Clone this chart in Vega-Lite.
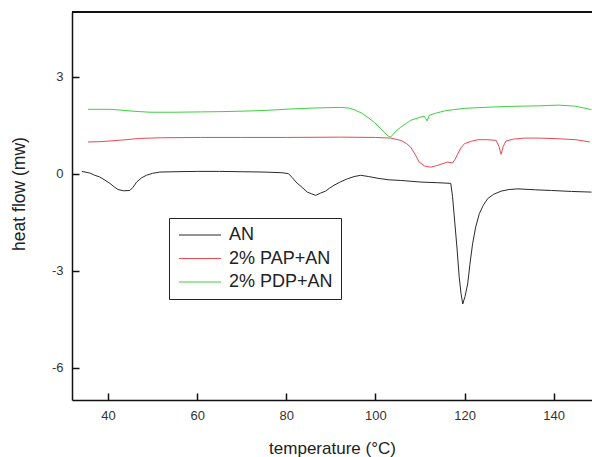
{
  "$schema": "https://vega.github.io/schema/vega-lite/v6.json",
  "autosize": "none",
  "width": 520,
  "height": 388,
  "padding": {"left": 72, "top": 12, "right": 0, "bottom": 57},
  "background": "white",
  "config": {
    "view": {"stroke": null},
    "font": "Liberation Sans",
    "axis": {
      "grid": false,
      "domainColor": "#111",
      "domainWidth": 1.5,
      "tickColor": "#111",
      "tickWidth": 1.5,
      "tickSize": -7,
      "labelFont": "Liberation Sans",
      "labelFontSize": 13,
      "labelColor": "#333",
      "titleFont": "Liberation Sans",
      "titleFontWeight": "normal",
      "titleColor": "#222"
    }
  },
  "data": {"values": [
    {"s":"AN","x":34.1,"y":0.07},{"s":"AN","x":35.9,"y":0.02},{"s":"AN","x":37.0,"y":-0.05},{"s":"AN","x":38.1,"y":-0.1},{"s":"AN","x":39.3,"y":-0.2},{"s":"AN","x":40.4,"y":-0.3},{"s":"AN","x":41.3,"y":-0.4},{"s":"AN","x":42.2,"y":-0.49},{"s":"AN","x":43.5,"y":-0.53},{"s":"AN","x":44.9,"y":-0.52},{"s":"AN","x":45.6,"y":-0.42},{"s":"AN","x":46.4,"y":-0.26},{"s":"AN","x":47.5,"y":-0.13},{"s":"AN","x":48.6,"y":-0.05},{"s":"AN","x":50.0,"y":0.01},{"s":"AN","x":51.6,"y":0.05},{"s":"AN","x":55,"y":0.06},{"s":"AN","x":60,"y":0.07},{"s":"AN","x":65,"y":0.07},{"s":"AN","x":70,"y":0.06},{"s":"AN","x":75,"y":0.05},{"s":"AN","x":79,"y":0.03},{"s":"AN","x":80.5,"y":0.0},{"s":"AN","x":81.3,"y":-0.12},{"s":"AN","x":82.4,"y":-0.29},{"s":"AN","x":83.5,"y":-0.42},{"s":"AN","x":84.7,"y":-0.57},{"s":"AN","x":85.6,"y":-0.62},{"s":"AN","x":86.6,"y":-0.67},{"s":"AN","x":87.7,"y":-0.6},{"s":"AN","x":88.8,"y":-0.54},{"s":"AN","x":89.7,"y":-0.45},{"s":"AN","x":90.7,"y":-0.36},{"s":"AN","x":92.2,"y":-0.25},{"s":"AN","x":93.7,"y":-0.16},{"s":"AN","x":95.2,"y":-0.09},{"s":"AN","x":96.7,"y":-0.05},{"s":"AN","x":98.5,"y":-0.09},{"s":"AN","x":100.4,"y":-0.14},{"s":"AN","x":103,"y":-0.19},{"s":"AN","x":105.7,"y":-0.21},{"s":"AN","x":110.2,"y":-0.26},{"s":"AN","x":114,"y":-0.28},{"s":"AN","x":116.9,"y":-0.3},{"s":"AN","x":117.3,"y":-0.7},{"s":"AN","x":117.7,"y":-1.34},{"s":"AN","x":118.3,"y":-2.3},{"s":"AN","x":118.8,"y":-3.2},{"s":"AN","x":119.2,"y":-3.7},{"s":"AN","x":119.6,"y":-4.03},{"s":"AN","x":120.1,"y":-3.8},{"s":"AN","x":120.7,"y":-3.41},{"s":"AN","x":121.2,"y":-2.8},{"s":"AN","x":121.8,"y":-2.17},{"s":"AN","x":122.5,"y":-1.65},{"s":"AN","x":123.3,"y":-1.24},{"s":"AN","x":124.2,"y":-0.98},{"s":"AN","x":125.2,"y":-0.77},{"s":"AN","x":126.5,"y":-0.64},{"s":"AN","x":128.2,"y":-0.54},{"s":"AN","x":130,"y":-0.49},{"s":"AN","x":132.0,"y":-0.47},{"s":"AN","x":136,"y":-0.5},{"s":"AN","x":139.5,"y":-0.52},{"s":"AN","x":144,"y":-0.55},{"s":"AN","x":148.5,"y":-0.57},
    {"s":"2% PAP+AN","x":35.5,"y":0.98},{"s":"2% PAP+AN","x":38,"y":0.99},{"s":"2% PAP+AN","x":40.4,"y":1.01},{"s":"2% PAP+AN","x":44,"y":1.05},{"s":"2% PAP+AN","x":47.1,"y":1.09},{"s":"2% PAP+AN","x":52,"y":1.11},{"s":"2% PAP+AN","x":60.7,"y":1.12},{"s":"2% PAP+AN","x":70,"y":1.12},{"s":"2% PAP+AN","x":80,"y":1.12},{"s":"2% PAP+AN","x":92.2,"y":1.13},{"s":"2% PAP+AN","x":100,"y":1.12},{"s":"2% PAP+AN","x":103.4,"y":1.1},{"s":"2% PAP+AN","x":105.7,"y":1.03},{"s":"2% PAP+AN","x":107.0,"y":0.93},{"s":"2% PAP+AN","x":107.9,"y":0.82},{"s":"2% PAP+AN","x":108.9,"y":0.6},{"s":"2% PAP+AN","x":109.8,"y":0.36},{"s":"2% PAP+AN","x":111,"y":0.24},{"s":"2% PAP+AN","x":112.4,"y":0.2},{"s":"2% PAP+AN","x":113.5,"y":0.24},{"s":"2% PAP+AN","x":114.7,"y":0.29},{"s":"2% PAP+AN","x":116.2,"y":0.36},{"s":"2% PAP+AN","x":117.3,"y":0.33},{"s":"2% PAP+AN","x":117.9,"y":0.45},{"s":"2% PAP+AN","x":118.5,"y":0.62},{"s":"2% PAP+AN","x":119.2,"y":0.8},{"s":"2% PAP+AN","x":120.0,"y":0.93},{"s":"2% PAP+AN","x":121.5,"y":1.0},{"s":"2% PAP+AN","x":123.0,"y":1.05},{"s":"2% PAP+AN","x":125,"y":1.05},{"s":"2% PAP+AN","x":127.1,"y":1.03},{"s":"2% PAP+AN","x":127.7,"y":0.85},{"s":"2% PAP+AN","x":128.2,"y":0.6},{"s":"2% PAP+AN","x":128.7,"y":0.85},{"s":"2% PAP+AN","x":129.3,"y":1.01},{"s":"2% PAP+AN","x":131,"y":1.07},{"s":"2% PAP+AN","x":133.5,"y":1.1},{"s":"2% PAP+AN","x":137,"y":1.1},{"s":"2% PAP+AN","x":141.0,"y":1.08},{"s":"2% PAP+AN","x":145,"y":1.05},{"s":"2% PAP+AN","x":148.1,"y":0.98},
    {"s":"2% PDP+AN","x":35.5,"y":1.99},{"s":"2% PDP+AN","x":38,"y":1.99},{"s":"2% PDP+AN","x":40.4,"y":1.99},{"s":"2% PDP+AN","x":42.5,"y":1.97},{"s":"2% PDP+AN","x":44.9,"y":1.94},{"s":"2% PDP+AN","x":47,"y":1.92},{"s":"2% PDP+AN","x":49.4,"y":1.9},{"s":"2% PDP+AN","x":55,"y":1.9},{"s":"2% PDP+AN","x":60.7,"y":1.91},{"s":"2% PDP+AN","x":66,"y":1.92},{"s":"2% PDP+AN","x":71.9,"y":1.94},{"s":"2% PDP+AN","x":76,"y":1.96},{"s":"2% PDP+AN","x":80.9,"y":2.0},{"s":"2% PDP+AN","x":86,"y":2.03},{"s":"2% PDP+AN","x":92.2,"y":2.05},{"s":"2% PDP+AN","x":94,"y":2.03},{"s":"2% PDP+AN","x":95.2,"y":1.98},{"s":"2% PDP+AN","x":96.8,"y":1.88},{"s":"2% PDP+AN","x":98.2,"y":1.75},{"s":"2% PDP+AN","x":99.8,"y":1.58},{"s":"2% PDP+AN","x":101.2,"y":1.39},{"s":"2% PDP+AN","x":102.1,"y":1.26},{"s":"2% PDP+AN","x":102.9,"y":1.16},{"s":"2% PDP+AN","x":103.4,"y":1.13},{"s":"2% PDP+AN","x":104.5,"y":1.3},{"s":"2% PDP+AN","x":105.7,"y":1.44},{"s":"2% PDP+AN","x":107,"y":1.56},{"s":"2% PDP+AN","x":107.9,"y":1.65},{"s":"2% PDP+AN","x":109.5,"y":1.72},{"s":"2% PDP+AN","x":110.9,"y":1.78},{"s":"2% PDP+AN","x":111.3,"y":1.7},{"s":"2% PDP+AN","x":111.6,"y":1.63},{"s":"2% PDP+AN","x":112.1,"y":1.81},{"s":"2% PDP+AN","x":113.5,"y":1.87},{"s":"2% PDP+AN","x":115.5,"y":1.94},{"s":"2% PDP+AN","x":117.5,"y":1.98},{"s":"2% PDP+AN","x":120.0,"y":2.02},{"s":"2% PDP+AN","x":123,"y":2.04},{"s":"2% PDP+AN","x":126.0,"y":2.06},{"s":"2% PDP+AN","x":130,"y":2.08},{"s":"2% PDP+AN","x":133.5,"y":2.09},{"s":"2% PDP+AN","x":137,"y":2.1},{"s":"2% PDP+AN","x":141.0,"y":2.12},{"s":"2% PDP+AN","x":144.7,"y":2.09},{"s":"2% PDP+AN","x":146.5,"y":2.04},{"s":"2% PDP+AN","x":148.5,"y":1.98}
  ]},
  "layer": [
    {
      "mark": {"type": "line", "strokeWidth": 1, "clip": true},
      "encoding": {
        "x": {"field": "x", "type": "quantitative", "scale": {"domain": [31.9, 148.6], "nice": false, "zero": false},
              "axis": {"values": [40, 60, 80, 100, 120, 140], "title": "temperature (°C)", "labelPadding": 16,
                       "titleFontSize": 17, "titleBaseline": "alphabetic", "titleY": 53}},
        "y": {"field": "y", "type": "quantitative", "scale": {"domain": [-7, 5], "nice": false, "zero": false},
              "axis": {"values": [-6, -3, 0, 3], "title": "heat flow  (mw)", "labelPadding": 16, "labelExpr": "'' + datum.value",
                       "titleFontSize": 17.5, "titleBaseline": "alphabetic", "titleX": -48, "titleY": 181.5}},
        "color": {"field": "s", "type": "nominal",
          "scale": {"domain": ["AN", "2% PAP+AN", "2% PDP+AN"], "range": ["#2a2a2a", "#e84a52", "#3fcf3f"]},
          "legend": {"title": null, "orient": "none", "legendX": 97, "legendY": 206, "strokeColor": "#222", "fillColor": "white",
            "padding": 8, "symbolType": "M-1,0H5", "symbolSize": 196, "symbolStrokeWidth": 1.2, "labelFontSize": 18,
            "labelFont": "Liberation Sans", "labelColor": "#222", "labelOffset": 34, "rowPadding": 5.5}}
      }
    },
    {
      "mark": {"type": "rule", "color": "#111", "strokeWidth": 1.5},
      "encoding": {"y": {"datum": 5}}
    }
  ]
}
